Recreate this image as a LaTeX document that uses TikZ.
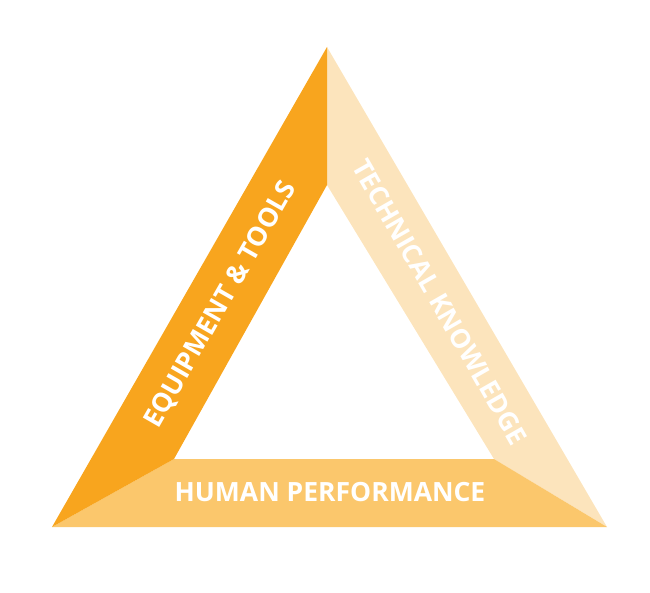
\documentclass[tikz,border=0pt]{standalone}
\usepackage{fontspec}
\setmainfont{Open Sans}
\definecolor{toolsorange}{HTML}{F8A51E}
\definecolor{knowpale}{HTML}{FCE4BC}
\definecolor{humanmid}{HTML}{FBC76C}
\tikzset{sidelabel/.style={text=white,font=\fontsize{26.5}{28}\selectfont\bfseries,inner sep=0pt}}
\begin{document}
\begin{tikzpicture}[x=1pt,y=-1pt,line join=round]
\useasboundingbox (0,0) rectangle (650,593);
\coordinate (otop) at (327,47);
\coordinate (obl) at (52,527);
\coordinate (obr) at (607,527);
\coordinate (itop) at (327,185);
\coordinate (ibl) at (174,459);
\coordinate (ibr) at (494,459);
\fill[knowpale](otop)--(itop)--(ibr)--(obr)--cycle;
\fill[humanmid](obl)--(ibl)--(ibr)--(obr)--cycle;
\fill[toolsorange](otop)--(obl)--(ibl)--(itop)--cycle;
\node[sidelabel,rotate=60.2] (tools) at (221,305) {EQUIPMENT \& TOOLS};
\node[sidelabel,rotate=-60.2] (know) at (440,302) {TECHNICAL KNOWLEDGE};
\node[sidelabel] (human) at (330,492) {HUMAN PERFORMANCE};
\end{tikzpicture}
\end{document}
